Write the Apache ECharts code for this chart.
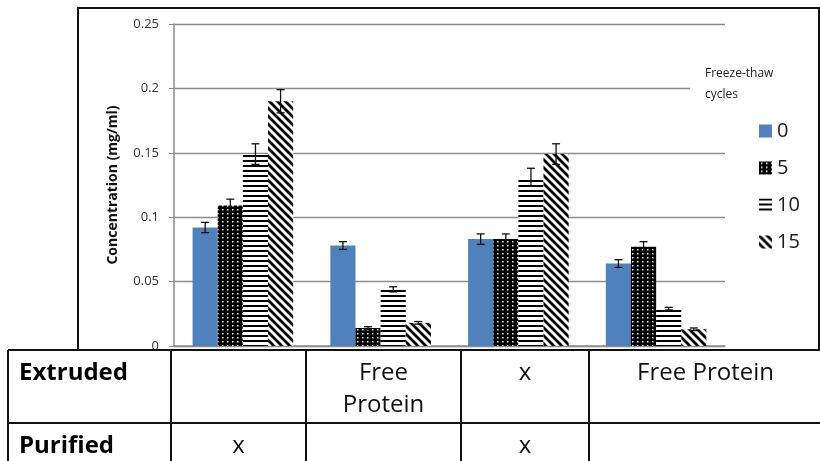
<!DOCTYPE html>
<html>
<head>
<meta charset="utf-8">
<script src="https://cdn.jsdelivr.net/npm/echarts@6/dist/echarts.min.js"></script>
<style>html,body{margin:0;padding:0;background:#fff}#c{width:820px;height:461px}</style>
</head>
<body>
<div id="c"></div>
<script>
// ---- data ----
var categories = ['Purified', 'Extruded free protein', 'Extruded + purified', 'Free protein'];
var seriesNames = ['0', '5', '10', '15'];
var values0 = [0.092, 0.078, 0.083, 0.064];
var values5 = [0.109, 0.014, 0.083, 0.077];
var values10 = [0.149, 0.044, 0.131, 0.029];
var values15 = [0.190, 0.018, 0.149, 0.013];
var errors0 = [0.004, 0.003, 0.004, 0.003];
var errors5 = [0.005, 0.001, 0.004, 0.004];
var errors10 = [0.008, 0.002, 0.007, 0.001];
var errors15 = [0.009, 0.001, 0.008, 0.001];
var yTicks = [0, 0.05, 0.1, 0.15, 0.2, 0.25];
var legendTitle = 'Freeze-thaw\ncycles';
var yAxisName = 'Concentration (mg/ml)';
var tableRowLabels = ['Extruded', 'Purified'];
var tableExtruded = ['', 'Free\nProtein', 'x', 'Free Protein'];
var tablePurified = ['x', '', 'x', ''];

// ---- patterns ----
function mk(w, h, draw) {
  var c = document.createElement('canvas'); c.width = w; c.height = h;
  var g = c.getContext('2d'); draw(g, w, h); return c;
}
var dotPat = mk(5, 4, function (g) {
  g.fillStyle = '#000'; g.fillRect(0, 0, 5, 4);
  g.fillStyle = '#fff'; g.fillRect(2, 1, 1.5, 1.5);
});
var hPat = mk(4, 5, function (g) {
  g.fillStyle = '#fff'; g.fillRect(0, 0, 4, 5);
  g.fillStyle = '#000'; g.fillRect(0, 0, 4, 2);
});
var dPat = mk(8, 8, function (g) {
  g.fillStyle = '#fff'; g.fillRect(0, 0, 8, 8);
  g.strokeStyle = '#000'; g.lineWidth = 2.8;
  g.beginPath();
  g.moveTo(-2, -2); g.lineTo(10, 10);
  g.moveTo(-10, -2); g.lineTo(2, 10);
  g.moveTo(6, -2); g.lineTo(18, 10);
  g.stroke();
});
var fills = ['#4f81bd', { image: dotPat, repeat: 'repeat' }, { image: hPat, repeat: 'repeat' }, { image: dPat, repeat: 'repeat' }];

var allValues = [values0, values5, values10, values15];
var allErrors = [errors0, errors5, errors10, errors15];

var series = [];
allValues.forEach(function (vals, s) {
  series.push({
    name: seriesNames[s], type: 'bar', data: vals,
    barGap: 0, barCategoryGap: '27%',
    itemStyle: { color: fills[s] }
  });
});
var CAT_GAP = 0.27;
allValues.forEach(function (vals, s) {
  var d = vals.map(function (v, i) { return [i, v - allErrors[s][i], v + allErrors[s][i]]; });
  series.push({
    type: 'custom', name: 'err' + s, z: 10,
    encode: { x: 0, y: [1, 2] },
    data: d,
    renderItem: function (params, api) {
      var band = api.size([1, 0])[0];
      var bw = band * (1 - CAT_GAP) / 4;
      var off = (s - 1.5) * bw;
      var lo = api.coord([api.value(0), api.value(1)]);
      var hi = api.coord([api.value(0), api.value(2)]);
      var x = lo[0] + off, cw = 4;
      var st = { stroke: '#111', lineWidth: 1.3 };
      return { type: 'group', children: [
        { type: 'line', shape: { x1: x, y1: lo[1], x2: x, y2: hi[1] }, style: st },
        { type: 'line', shape: { x1: x - cw, y1: lo[1], x2: x + cw, y2: lo[1] }, style: st },
        { type: 'line', shape: { x1: x - cw, y1: hi[1], x2: x + cw, y2: hi[1] }, style: st }
      ] };
    }
  });
});

// ---- graphic: frame, legend title, table ----
var colEdges = [8, 171, 306, 461, 589, 822];
var rowEdges = [350, 423, 470];
var graphic = [];
graphic.push({ type: 'rect', z: 100, shape: { x: 78, y: 8, width: 741, height: 342 }, style: { fill: 'none', stroke: '#111', lineWidth: 2 } });
graphic.push({ type: 'rect', z: 50, shape: { x: 690, y: 62, width: 70, height: 40 }, style: { fill: '#fff' } });
graphic.push({ type: 'text', z: 60, x: 705, y: 63, style: { text: legendTitle, font: '12px "Open Sans", sans-serif', fill: '#222', lineHeight: 21 } });
// table lines
rowEdges.slice(0, 2).forEach(function (y) {
  graphic.push({ type: 'line', z: 100, shape: { x1: 8, y1: y, x2: 822, y2: y }, style: { stroke: '#111', lineWidth: 2 } });
});
colEdges.slice(0, 5).forEach(function (x) {
  graphic.push({ type: 'line', z: 100, shape: { x1: x, y1: 350, x2: x, y2: 470 }, style: { stroke: '#111', lineWidth: 2 } });
});
var rowCenters = [373, 446];
tableRowLabels.forEach(function (t, r) {
  graphic.push({ type: 'text', z: 100, x: 19, y: rowCenters[r], style: { text: t, font: 'bold 24px "Open Sans", sans-serif', fill: '#000', verticalAlign: 'middle' } });
});
[tableExtruded, tablePurified].forEach(function (row, r) {
  row.forEach(function (t, c) {
    if (!t) return;
    var cx = (colEdges[c + 1] + colEdges[c + 2]) / 2;
    graphic.push({ type: 'text', z: 100, x: cx, y: rowCenters[r] - 16, style: { text: t, font: '24px "Open Sans", sans-serif', fill: '#111', align: 'center', verticalAlign: 'top', lineHeight: 32 } });
  });
});

var chart = echarts.init(document.getElementById('c'), null, { renderer: 'canvas' });
chart.setOption({
  backgroundColor: '#fff',
  animation: false,
  grid: { left: 174, right: 95, top: 24, bottom: 115 },
  legend: {
    data: seriesNames, orient: 'vertical', left: 754, top: 116,
    itemWidth: 13, itemHeight: 13, itemGap: 17, icon: 'rect',
    textStyle: { fontSize: 20, color: '#1a1a1a', fontFamily: '"Open Sans", sans-serif', lineHeight: 20 }
  },
  xAxis: {
    type: 'category', data: categories,
    axisLine: { lineStyle: { color: '#8c8c8c', width: 1.5 } },
    axisTick: { show: false }, axisLabel: { show: false }
  },
  yAxis: {
    type: 'value', min: yTicks[0], max: yTicks[yTicks.length - 1], interval: yTicks[1] - yTicks[0],
    name: yAxisName, nameLocation: 'middle', nameGap: 54,
    nameTextStyle: { fontSize: 14, fontWeight: 'bold', color: '#111', fontFamily: '"Open Sans", sans-serif' },
    axisLine: { show: true, lineStyle: { color: '#8c8c8c', width: 1.5 } },
    axisTick: { show: true, length: 5, lineStyle: { color: '#8c8c8c' } },
    axisLabel: { fontSize: 13, color: '#333', fontFamily: '"Open Sans", sans-serif', margin: 15 },
    splitLine: { lineStyle: { color: '#8c8c8c', width: 1.3 } }
  },
  series: series,
  graphic: graphic
});
</script>
</body>
</html>
